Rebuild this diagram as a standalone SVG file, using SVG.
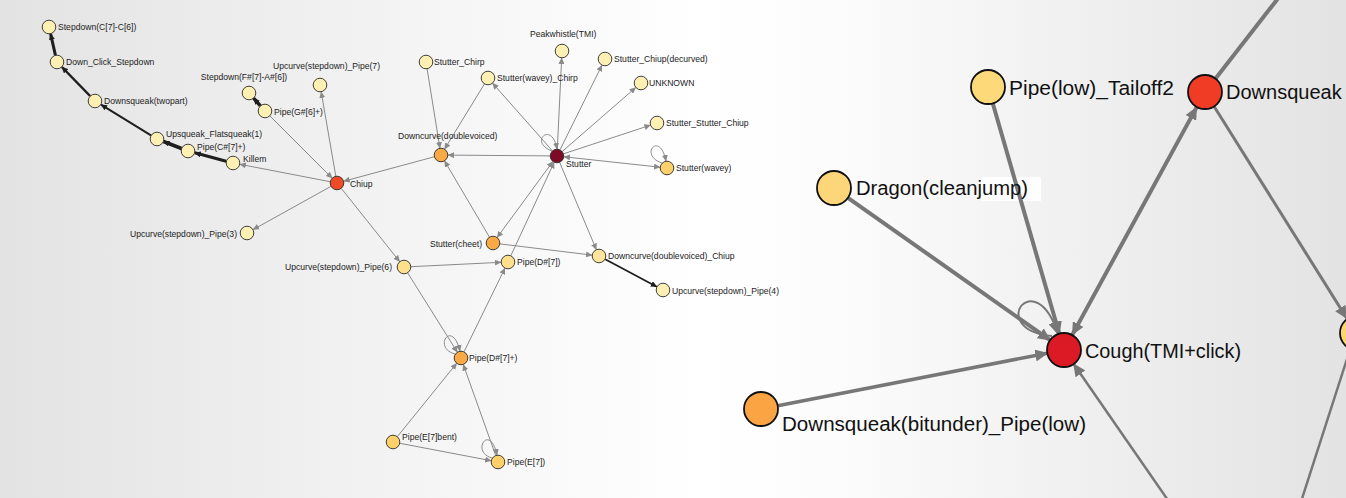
<svg xmlns="http://www.w3.org/2000/svg" width="1346" height="498" viewBox="0 0 1346 498">
<defs>
<linearGradient id="bg" x1="0" y1="0" x2="1" y2="0">
<stop offset="0" stop-color="#e3e3e3"/>
<stop offset="0.38" stop-color="#f8f8f8"/>
<stop offset="0.52" stop-color="#ffffff"/>
<stop offset="0.62" stop-color="#fcfcfc"/>
<stop offset="1" stop-color="#e3e3e3"/>
</linearGradient>
<marker id="a" markerUnits="userSpaceOnUse" markerWidth="7" markerHeight="6" refX="6" refY="3" orient="auto-start-reverse"><path d="M0,0 L6.5,3 L0,6 z" fill="#8a8a8a"/></marker>
<marker id="ad" markerUnits="userSpaceOnUse" markerWidth="7" markerHeight="6" refX="6" refY="3" orient="auto-start-reverse"><path d="M0,0 L6.5,3 L0,6 z" fill="#1e1e1e"/></marker>
<marker id="ar" markerUnits="userSpaceOnUse" markerWidth="14" markerHeight="12" refX="12" refY="6" orient="auto-start-reverse"><path d="M0,0 L13,6 L0,12 z" fill="#777777"/></marker>
</defs>
<style>
.lbl{font-family:"Liberation Sans",Arial,sans-serif;font-size:8.6px;fill:#222}
.big{font-family:"Liberation Sans",Arial,sans-serif;font-size:20px;fill:#111}
.n{stroke:#2a2a2a;stroke-width:0.9}
.N{stroke:#111;stroke-width:1.8}
.e{fill:none;stroke:#8a8a8a;stroke-width:1;marker-end:url(#a)}
.d{fill:none;stroke:#1e1e1e;marker-end:url(#ad)}
.r{fill:none;stroke:#777777;marker-end:url(#ar)}
.both{marker-start:url(#a)}
.rb{marker-start:url(#ar)}
.pale{fill:#fdf0b2}
.yel{fill:#fde08c}
.gold{fill:#fdd06a}
.org{fill:#f9aa45}
</style>
<rect x="0" y="0" width="1346" height="498" fill="url(#bg)"/>
<rect x="981" y="177" width="60" height="24" fill="#ffffff"/>

<g id="connectors">
<line class="d" stroke-width="3" x1="55.4" y1="55.2" x2="50.6" y2="33.8"/>
<line class="d" stroke-width="2.5" x1="90.1" y1="96" x2="61.9" y2="67"/>
<line class="d" stroke-width="2" x1="151" y1="135.3" x2="101" y2="104.7"/>
<line class="d" stroke-width="3.5" x1="181.5" y1="148.5" x2="163.5" y2="141.5"/>
<line class="d" stroke-width="3" x1="226.2" y1="161.2" x2="194.8" y2="152.8"/>
<line class="d" stroke-width="3.5" x1="260.4" y1="105.8" x2="253.6" y2="98.2"/>
<line class="e" x1="330.1" y1="181.7" x2="239.9" y2="164.3"/>
<line class="e" x1="330.9" y1="186.4" x2="253.1" y2="229.6"/>
<line class="e" x1="269.9" y1="115.9" x2="332.1" y2="178.1"/>
<line class="e" x1="335.8" y1="176.1" x2="321.2" y2="91.9"/>
<line class="e" x1="434.2" y1="156.8" x2="343.8" y2="181.2"/>
<line class="e" x1="341.4" y1="188.5" x2="399.6" y2="261.5"/>
<line class="e" x1="411" y1="266.7" x2="501" y2="262.3"/>
<line class="e" x1="407.7" y1="272.9" x2="457.3" y2="352.1"/>
<line class="e" x1="464.1" y1="351.7" x2="504.9" y2="268.3"/>
<line class="e" x1="397.4" y1="436.6" x2="456.6" y2="363.4"/>
<line class="e" x1="495.7" y1="455.4" x2="463.3" y2="364.6"/>
<line class="e" x1="399.9" y1="443.3" x2="491.1" y2="460.7"/>
<line class="e" x1="427.1" y1="68.9" x2="439.9" y2="148.1" stroke="#6a6a6a"/>
<line class="e" x1="484.4" y1="84" x2="444.6" y2="149" stroke="#555" stroke-width="1.2"/>
<line class="e" x1="550" y1="155.9" x2="448" y2="155.1"/>
<line class="e" x1="552.4" y1="150.8" x2="492.6" y2="83.2"/>
<line class="e" x1="557.3" y1="149" x2="561.7" y2="58"/>
<line class="e" x1="560.1" y1="149.7" x2="601.9" y2="65.3"/>
<line class="e" x1="562.3" y1="151.4" x2="635.7" y2="87.6"/>
<line class="e" x1="563.6" y1="153.8" x2="650.4" y2="125.2"/>
<line class="e both" x1="564" y1="156.8" x2="660" y2="167.2"/>
<line class="e both" x1="552.8" y1="161.6" x2="497.2" y2="237.4"/>
<line class="e" x1="489.4" y1="237" x2="444.6" y2="161"/>
<line class="e" x1="500" y1="243.9" x2="592" y2="255.1"/>
<line class="e" x1="559.7" y1="162.5" x2="596.3" y2="249.5"/>
<line class="e" x1="510.9" y1="255.6" x2="554.1" y2="162.4"/>
<line class="d" stroke-width="1.8" stroke="#333" x1="605.2" y1="259.3" x2="656.8" y2="286.7"/>
<path class="e" d="M552,151 C528,142 552,120 557,149"/>
<path class="e" d="M662,163 C638,155 660,130 666,161"/>
<path class="e" d="M455,354 C432,348 452,318 460,351"/>
<path class="e" d="M492,458 C470,452 490,422 497,455"/>

<line class="r" stroke-width="4" x1="1215.8" y1="78.2" x2="1283" y2="-8" style="marker-end:none"/>
<line class="r rb" stroke-width="4" x1="1072.4" y1="334.6" x2="1196.6" y2="107.4"/>
<line class="r" stroke-width="3" x1="1214.3" y1="106.8" x2="1346.7" y2="318.2"/>
<line class="r" stroke-width="2.5" x1="1350" y1="349.6" x2="1299" y2="508" style="marker-end:none"/>
<line class="r" stroke-width="2.5" x1="1172" y1="506" x2="1073.7" y2="364"/>
<line class="r" stroke-width="4" x1="848.3" y1="198.1" x2="1050.1" y2="340.2"/>
<line class="r" stroke-width="4" x1="992.9" y1="103.8" x2="1059.3" y2="333.7"/>
<line class="r" stroke-width="3.5" x1="777.7" y1="405.7" x2="1047.3" y2="353.2"/>
<path class="r" stroke-width="2" d="M1052,336 C985,330 1035,262 1058,334"/>
</g>

<g id="n-stepdown-c7-c6"><circle class="n pale" cx="49" cy="27" r="6.8"/><text class="lbl" x="58" y="30">Stepdown(C[7]-C[6])</text></g>
<g id="n-down-click-stepdown"><circle class="n pale" cx="57" cy="62" r="6.8"/><text class="lbl" x="66" y="65">Down_Click_Stepdown</text></g>
<g id="n-downsqueak-twopart"><circle class="n pale" cx="95" cy="101" r="6.8"/><text class="lbl" x="104" y="104">Downsqueak(twopart)</text></g>
<g id="n-upsqueak-flatsqueak1"><circle class="n pale" cx="157" cy="139" r="6.8"/><text class="lbl" x="166" y="137">Upsqueak_Flatsqueak(1)</text></g>
<g id="n-pipe-cs7"><circle class="n pale" cx="188" cy="151" r="6.8"/><text class="lbl" x="197" y="150">Pipe(C#[7]+)</text></g>
<g id="n-killem"><circle class="n pale" cx="233" cy="163" r="6.8"/><text class="lbl" x="243" y="162">Killem</text></g>
<g id="n-chiup"><circle class="n" fill="#f04a26" cx="337" cy="183" r="6.8"/><text class="lbl" x="350" y="187">Chiup</text></g>
<g id="n-upcurve-pipe3"><circle class="n pale" cx="247" cy="233" r="6.8"/><text class="lbl" x="237" y="237" text-anchor="end">Upcurve(stepdown)_Pipe(3)</text></g>
<g id="n-stepdown-fs7-as6"><circle class="n pale" cx="249" cy="93" r="6.8"/><text class="lbl" x="244" y="80" text-anchor="middle">Stepdown(F#[7]-A#[6])</text></g>
<g id="n-pipe-gs6"><circle class="n pale" cx="265" cy="111" r="6.8"/><text class="lbl" x="274" y="115">Pipe(G#[6]+)</text></g>
<g id="n-upcurve-pipe7"><circle class="n pale" cx="320" cy="85" r="6.8"/><text class="lbl" x="273" y="69">Upcurve(stepdown)_Pipe(7)</text></g>
<g id="n-peakwhistle"><circle class="n pale" cx="562" cy="51" r="6.8"/><text class="lbl" x="530" y="37">Peakwhistle(TMI)</text></g>
<g id="n-stutter-chirp"><circle class="n pale" cx="426" cy="62" r="6.8"/><text class="lbl" x="434" y="65">Stutter_Chirp</text></g>
<g id="n-stutter-wavey-chirp"><circle class="n pale" cx="488" cy="78" r="6.8"/><text class="lbl" x="497" y="81">Stutter(wavey)_Chirp</text></g>
<g id="n-stutter-chiup-decurved"><circle class="n pale" cx="605" cy="59" r="6.8"/><text class="lbl" x="614" y="62">Stutter_Chiup(decurved)</text></g>
<g id="n-unknown"><circle class="n pale" cx="641" cy="83" r="6.8"/><text class="lbl" x="649" y="86">UNKNOWN</text></g>
<g id="n-stutter-stutter-chiup"><circle class="n pale" cx="657" cy="123" r="6.8"/><text class="lbl" x="666" y="126">Stutter_Stutter_Chiup</text></g>
<g id="n-downcurve-doublevoiced"><circle class="n org" cx="441" cy="155" r="6.8"/><text class="lbl" x="398" y="139">Downcurve(doublevoiced)</text></g>
<g id="n-stutter"><circle class="n" fill="#7f0a26" cx="557" cy="156" r="6.8"/><text class="lbl" x="566" y="167">Stutter</text></g>
<g id="n-stutter-wavey"><circle class="n gold" cx="667" cy="168" r="6.8"/><text class="lbl" x="676" y="171">Stutter(wavey)</text></g>
<g id="n-stutter-cheet"><circle class="n org" cx="493" cy="243" r="6.8"/><text class="lbl" x="482" y="247" text-anchor="end">Stutter(cheet)</text></g>
<g id="n-upcurve-pipe6"><circle class="n yel" cx="404" cy="267" r="6.8"/><text class="lbl" x="392" y="270" text-anchor="end">Upcurve(stepdown)_Pipe(6)</text></g>
<g id="n-pipe-ds7"><circle class="n yel" cx="508" cy="262" r="6.8"/><text class="lbl" x="517" y="265">Pipe(D#[7])</text></g>
<g id="n-downcurve-doublevoiced-chiup"><circle class="n" fill="#fde59c" cx="599" cy="256" r="6.8"/><text class="lbl" x="608" y="259">Downcurve(doublevoiced)_Chiup</text></g>
<g id="n-upcurve-pipe4"><circle class="n pale" cx="663" cy="290" r="6.8"/><text class="lbl" x="672" y="294">Upcurve(stepdown)_Pipe(4)</text></g>
<g id="n-pipe-ds7plus"><circle class="n org" cx="461" cy="358" r="6.8"/><text class="lbl" x="469" y="361">Pipe(D#[7]+)</text></g>
<g id="n-pipe-e7bent"><circle class="n gold" cx="393" cy="442" r="6.8"/><text class="lbl" x="402" y="440">Pipe(E[7]bent)</text></g>
<g id="n-pipe-e7"><circle class="n gold" cx="498" cy="462" r="6.8"/><text class="lbl" x="507" y="465">Pipe(E[7])</text></g>

<g id="n-pipe-low-tailoff2"><circle class="N" fill="#fdd97a" cx="988" cy="87" r="17"/><text class="big" x="1009" y="95" textLength="165" lengthAdjust="spacingAndGlyphs">Pipe(low)_Tailoff2</text></g>
<g id="n-downsqueak"><circle class="N" fill="#f03b25" cx="1205" cy="92" r="17"/><text class="big" x="1226" y="99">Downsqueak</text></g>
<g id="n-dragon-cleanjump"><circle class="N" fill="#fdd67a" cx="834" cy="188" r="17"/><text class="big" x="856" y="195" textLength="172" lengthAdjust="spacingAndGlyphs">Dragon(cleanjump)</text></g>
<g id="n-cough"><circle class="N" fill="#dc1a25" cx="1064" cy="350" r="17"/><text class="big" x="1085" y="358" textLength="156" lengthAdjust="spacingAndGlyphs">Cough(TMI+click)</text></g>
<g id="n-downsqueak-bitunder"><circle class="N" fill="#fba443" cx="761" cy="409" r="17"/><text class="big" x="782" y="431" textLength="304" lengthAdjust="spacingAndGlyphs">Downsqueak(bitunder)_Pipe(low)</text></g>
<g id="n-right-edge"><circle class="N" fill="#fdd76e" cx="1357" cy="333" r="17"/></g>
</svg>
